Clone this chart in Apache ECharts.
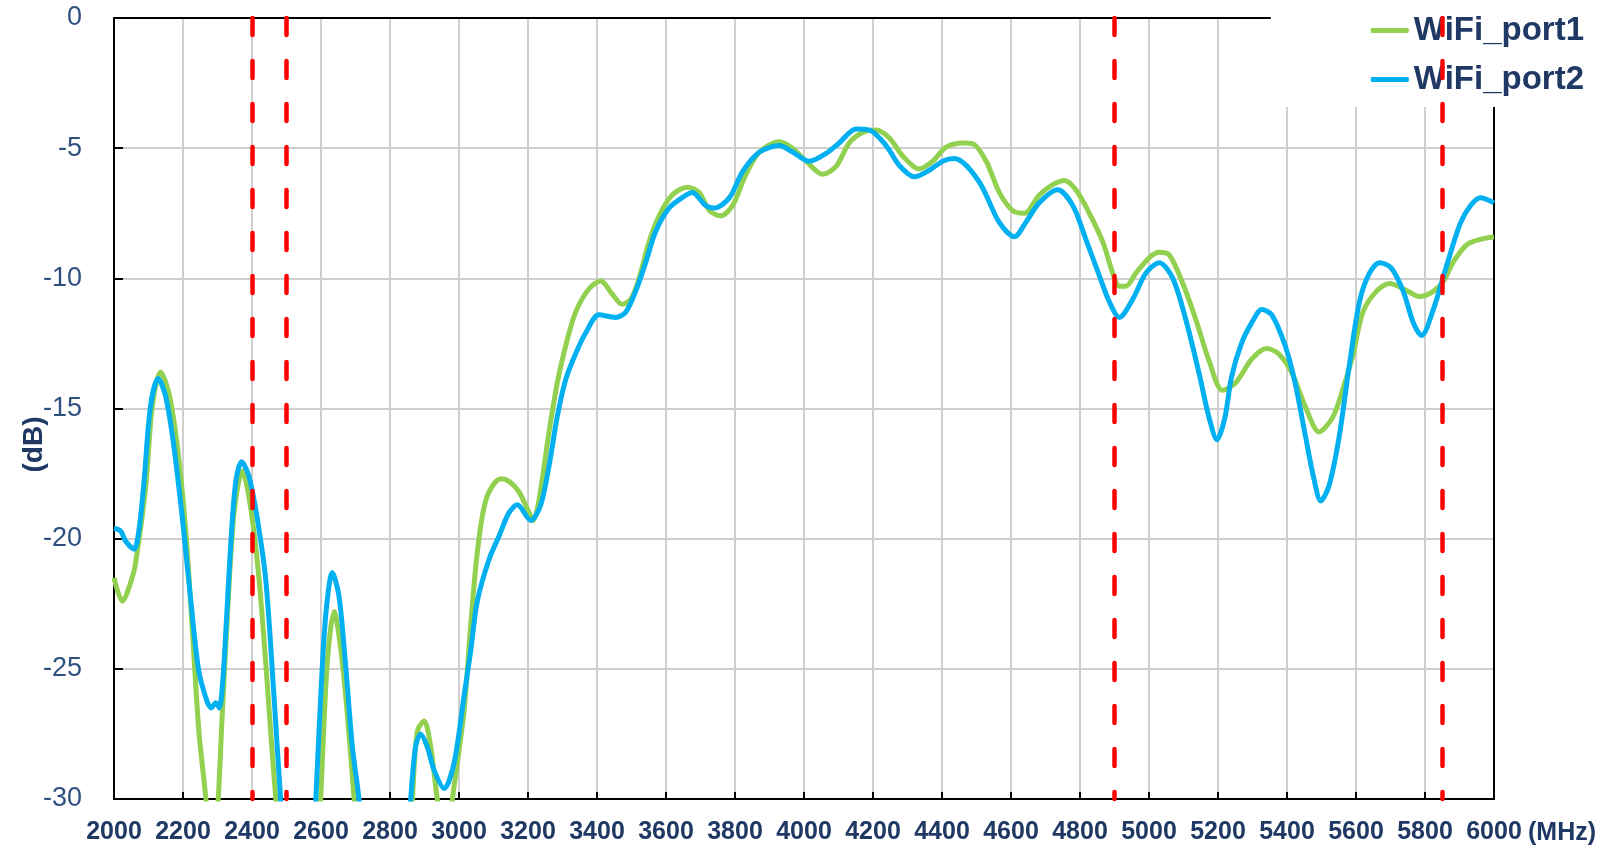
<!DOCTYPE html>
<html>
<head>
<meta charset="utf-8">
<title>WiFi port isolation</title>
<script src="https://cdn.jsdelivr.net/npm/echarts@6/dist/echarts.min.js"></script>
<style>
  html, body { margin: 0; padding: 0; background: #fff; }
  #chart { width: 1602px; height: 848px; }
</style>
</head>
<body>
<div id="chart"></div>
<script>
// WiFi_port1 (green) — frequency in MHz, level in dB
const port1Freq = [2000, 2024, 2048, 2063, 2092, 2111, 2135, 2159, 2184, 2208, 2227, 2246, 2261, 2275, 2288, 2300,
  2314, 2329, 2348, 2372, 2396, 2420, 2440, 2454, 2469, 2485, 2540, 2590, 2599, 2618, 2638, 2657, 2676, 2696,
  2710, 2790, 2855, 2865, 2879, 2899, 2918, 2937, 2955, 2970, 2981, 3014, 3034, 3050, 3068, 3087, 3121, 3145,
  3174, 3203, 3215, 3232, 3261, 3285, 3309, 3338, 3377, 3411, 3444, 3473, 3498, 3522, 3551, 3580, 3618, 3662,
  3696, 3726, 3759, 3793, 3832, 3871, 3928, 3967, 4006, 4054, 4093, 4131, 4170, 4209, 4247, 4286, 4334, 4373,
  4412, 4460, 4489, 4528, 4566, 4605, 4639, 4682, 4721, 4755, 4788, 4827, 4866, 4895, 4914, 4933, 4962, 5001,
  5030, 5059, 5098, 5136, 5175, 5213, 5252, 5298, 5341, 5376, 5415, 5454, 5493, 5532, 5561, 5590, 5620, 5659,
  5698, 5737, 5785, 5824, 5854, 5883, 5922, 5961, 6000];
const port1Db = [-21.5, -22.4, -21.7, -20.9, -18.0, -14.9, -13.6, -14.4, -16.5, -19.7, -23.5, -27.4, -29.3, -31, -32, -30.5,
  -26.7, -22.9, -19.0, -17.4, -18.8, -21.5, -24.8, -27.4, -30, -32.5, -34, -32, -30, -24.8, -22.8, -24.2, -26.7, -30,
  -32.5, -34, -32, -30, -27.4, -27.0, -28.0, -30, -31.5, -31.5, -30, -26.7, -23.3, -20.9, -19.1, -18.2, -17.7, -17.8,
  -18.2, -19.0, -19.3, -18.5, -15.9, -14.0, -12.6, -11.3, -10.4, -10.1, -10.6, -11.0, -10.8, -10.0, -8.6, -7.6, -6.8, -6.5,
  -6.7, -7.4, -7.6, -7.2, -6.0, -5.15, -4.75, -5.0, -5.5, -6.0, -5.7, -4.8, -4.4, -4.3, -4.6, -5.3, -5.8, -5.5,
  -4.96, -4.8, -4.83, -5.5, -6.7, -7.4, -7.5, -6.8, -6.4, -6.24, -6.6, -7.5, -8.6, -9.8, -10.3, -10.3, -9.8, -9.2,
  -9.0, -9.1, -10.2, -11.6, -13.2, -14.3, -14.0, -13.1, -12.7, -12.9, -13.65, -14.96, -15.9, -15.35, -14.3, -13.0, -11.3, -10.5,
  -10.2, -10.4, -10.7, -10.5, -10.1, -9.35, -8.7, -8.5, -8.4];

// WiFi_port2 (blue)
const port2Freq = [2000, 2019, 2034, 2058, 2072, 2087, 2106, 2128, 2150, 2174, 2198, 2222, 2246, 2271, 2282, 2295,
  2305, 2315, 2324, 2338, 2353, 2370, 2391, 2415, 2440, 2464, 2483, 2500, 2550, 2575, 2585, 2599, 2614, 2633,
  2652, 2671, 2691, 2710, 2725, 2800, 2850, 2860, 2874, 2889, 2908, 2928, 2957, 2986, 3014, 3034, 3053, 3087,
  3116, 3145, 3169, 3208, 3237, 3261, 3285, 3309, 3338, 3367, 3406, 3454, 3483, 3512, 3541, 3570, 3609, 3647,
  3676, 3715, 3740, 3784, 3822, 3871, 3928, 3967, 4015, 4064, 4102, 4151, 4189, 4238, 4276, 4320, 4363, 4402,
  4436, 4470, 4508, 4528, 4566, 4610, 4643, 4682, 4735, 4779, 4817, 4856, 4885, 4914, 4953, 4991, 5030, 5069,
  5107, 5146, 5175, 5197, 5220, 5239, 5268, 5298, 5327, 5356, 5395, 5424, 5454, 5478, 5498, 5522, 5551, 5580,
  5610, 5639, 5668, 5702, 5737, 5766, 5790, 5824, 5863, 5902, 5932, 5961, 6000];
const port2Db = [-19.6, -19.7, -20.1, -20.4, -19.7, -17.8, -14.9, -13.85, -14.55, -16.5, -19.2, -22.3, -25.1, -26.3, -26.5, -26.3,
  -26.5, -25.5, -23.6, -20.3, -17.8, -17.05, -17.6, -19.2, -21.6, -26.1, -30, -32.5, -34, -32, -30, -26.1, -22.9, -21.3,
  -22.2, -24.8, -28.0, -30, -32.5, -34, -32, -30, -28.0, -27.5, -28.0, -28.9, -29.6, -28.6, -26.1, -24.3, -22.4, -20.8,
  -19.9, -19.0, -18.7, -19.3, -18.7, -17.2, -15.3, -13.9, -12.9, -12.1, -11.4, -11.5, -11.3, -10.5, -9.4, -8.2, -7.3, -6.9,
  -6.7, -7.2, -7.3, -6.9, -5.9, -5.15, -4.9, -5.15, -5.5, -5.2, -4.8, -4.26, -4.3, -4.9, -5.66, -6.1, -5.85, -5.5,
  -5.4, -5.66, -6.3, -6.8, -7.85, -8.4, -7.85, -7.1, -6.6, -7.2, -8.5, -9.9, -10.9, -11.5, -10.8, -9.8, -9.4, -10.0,
  -11.6, -13.7, -15.4, -16.2, -15.35, -13.8, -12.5, -11.7, -11.2, -11.4, -12.6, -14.05, -16.1, -17.7, -18.55, -17.96, -16.1, -13.4,
  -10.9, -9.8, -9.4, -9.6, -10.5, -11.7, -12.2, -11.2, -9.5, -7.9, -7.2, -6.9, -7.1];

// WiFi band edges (red dashed markers), MHz
const bandEdges = [2400, 2500, 4900, 5850];

const freqMin = 2000, freqMax = 6000, freqStep = 200;
const dbMin = -30, dbMax = 0, dbStep = 5;

const navy = '#1f3864';
const labelBlue = '#2f4f7f';
const sansFont = 'Arial, "Liberation Sans", sans-serif';

function zip(xs, ys) {
  return xs.map((x, i) => [x, ys[i]]);
}

// plain frame line used for the top and right edges of the plot
function frameAxis(extra) {
  return Object.assign({
    type: 'value',
    show: true,
    axisLine: { show: true, onZero: false, lineStyle: { color: '#000', width: 2 } },
    axisTick: { show: false },
    axisLabel: { show: false },
    splitLine: { show: false },
  }, extra);
}

const chart = echarts.init(document.getElementById('chart'));

chart.setOption({
  animation: false,
  backgroundColor: '#fff',
  grid: { left: 114, right: 108, top: 18, bottom: 49, outerBoundsMode: 'none', containLabel: false },
  legend: {
    data: ['WiFi_port1', 'WiFi_port2'],
    orient: 'vertical',
    right: 0,
    top: 0,
    align: 'left',
    backgroundColor: '#fff',
    padding: [14, 18, 11, 100],
    itemGap: 16,
    itemWidth: 38,
    itemHeight: 5,
    icon: 'roundRect',
    textStyle: {
      color: navy,
      fontFamily: sansFont,
      fontWeight: 'bold',
      fontSize: 33,
    },
  },
  xAxis: [
    {
      type: 'value',
      min: freqMin,
      max: freqMax,
      interval: freqStep,
      name: '(MHz)',
      nameLocation: 'end',
      nameGap: 34,
      nameMoveOverlap: false,
      nameTextStyle: {
        color: navy,
        fontFamily: sansFont,
        fontWeight: 'bold',
        fontSize: 25,
        verticalAlign: 'top',
        padding: [22, 0, 0, 0],
      },
      axisLine: { onZero: false, lineStyle: { color: '#000', width: 2 } },
      axisTick: { inside: true, length: 7, lineStyle: { color: '#000', width: 2 } },
      axisLabel: {
        color: navy,
        fontFamily: sansFont,
        fontWeight: 'bold',
        fontSize: 25,
        margin: 21,
        showMinLabel: true,
        showMaxLabel: true,
        formatter: (v) => String(v),
      },
      splitLine: { show: true, lineStyle: { color: '#cfcfcf', width: 2 } },
    },
    frameAxis({ min: freqMin, max: freqMax, position: 'top' }),
  ],
  yAxis: [
    {
      type: 'value',
      min: dbMin,
      max: dbMax,
      interval: dbStep,
      name: '(dB)',
      nameLocation: 'middle',
      nameRotate: 90,
      nameGap: 66,
      nameMoveOverlap: false,
      nameTextStyle: {
        color: navy,
        fontFamily: sansFont,
        fontWeight: 'bold',
        fontSize: 28,
        padding: [0, 72, 0, 0],
      },
      axisLine: { show: true, onZero: false, lineStyle: { color: '#000', width: 2 } },
      axisTick: { show: true, inside: true, length: 9, lineStyle: { color: '#000', width: 2 } },
      axisLabel: {
        color: labelBlue,
        fontFamily: sansFont,
        fontSize: 27,
        margin: 32,
      },
      splitLine: { show: true, lineStyle: { color: '#cfcfcf', width: 2 } },
    },
    frameAxis({ min: dbMin, max: dbMax, position: 'right' }),
  ],
  series: [
    {
      name: 'WiFi_port1',
      type: 'line',
      data: zip(port1Freq, port1Db),
      smooth: 0.3,
      symbol: 'none',
      clip: true,
      lineStyle: { color: '#92d050', width: 5 },
      itemStyle: { color: '#92d050' },
      z: 2,
    },
    {
      name: 'WiFi_port2',
      type: 'line',
      data: zip(port2Freq, port2Db),
      smooth: 0.3,
      symbol: 'none',
      clip: true,
      lineStyle: { color: '#00b0f0', width: 5 },
      itemStyle: { color: '#00b0f0' },
      z: 2,
    },
    {
      name: 'band',
      type: 'line',
      data: [],
      z: 3,
      markLine: {
        silent: true,
        symbol: 'none',
        label: { show: false },
        lineStyle: { color: '#ff0000', width: 4.5, type: [17, 26], cap: 'round' },
        data: bandEdges.map((f) => [{ coord: [f, dbMax] }, { coord: [f, dbMin] }]),
      },
    },
  ],
});
</script>
</body>
</html>
